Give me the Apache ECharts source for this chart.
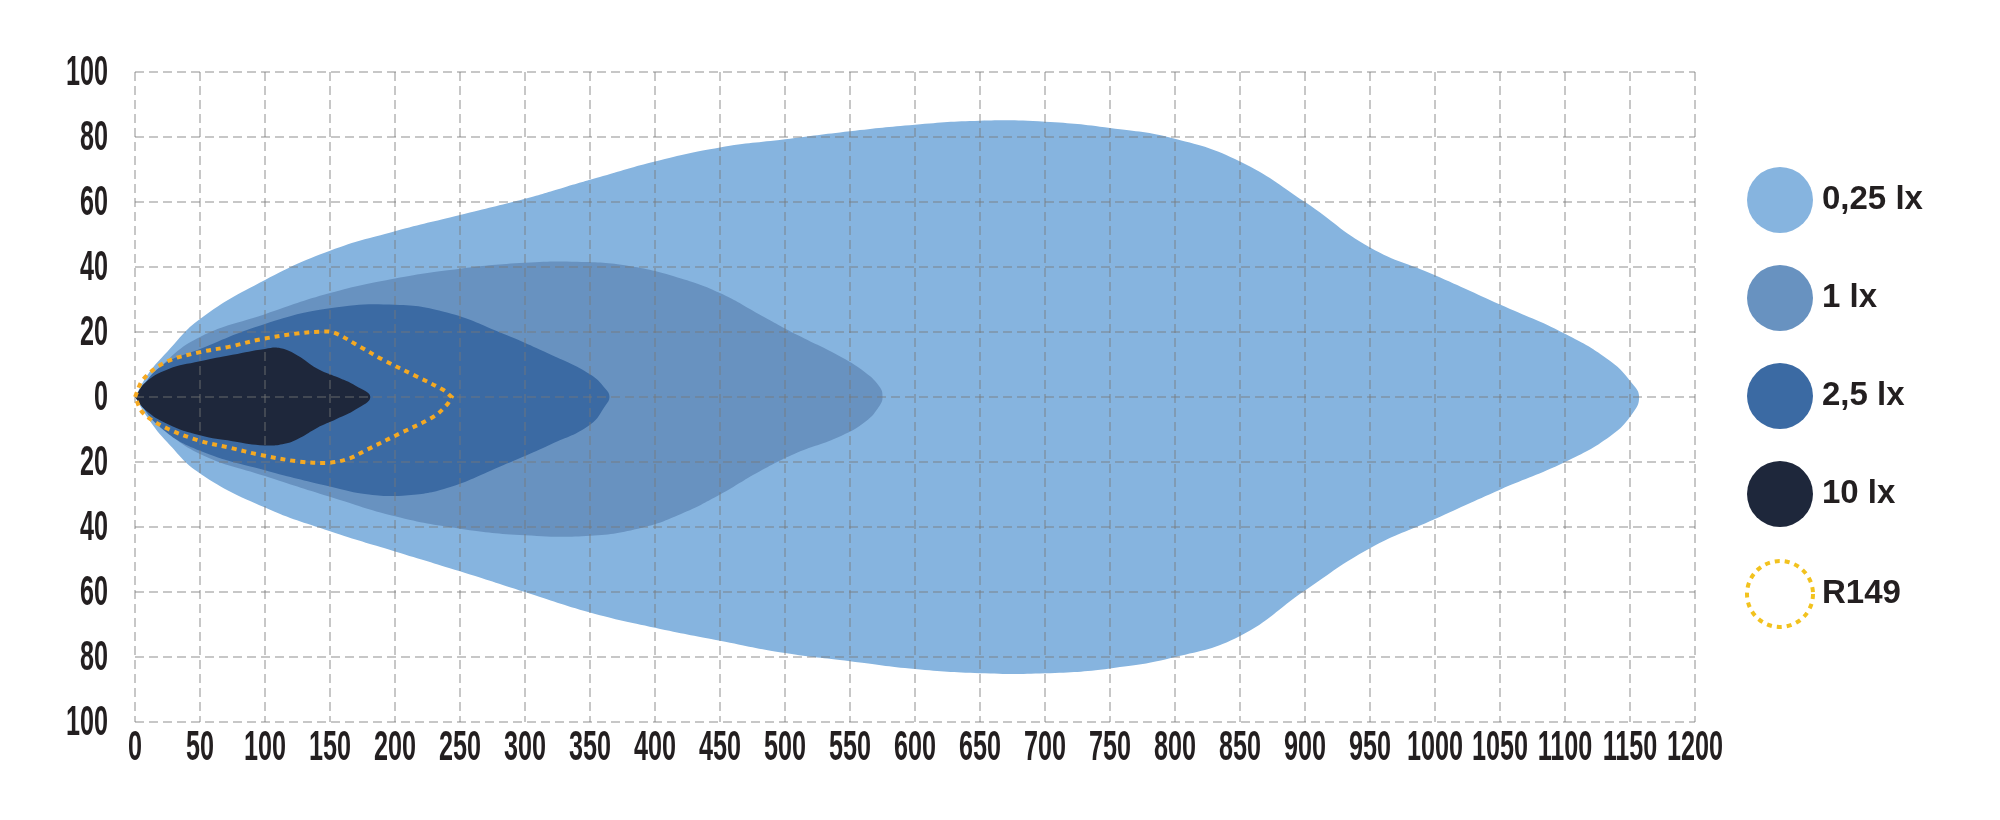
<!DOCTYPE html>
<html>
<head>
<meta charset="utf-8">
<script src="https://cdn.jsdelivr.net/npm/echarts@6/dist/echarts.min.js"></script>
<style>
  html, body { margin: 0; padding: 0; background: #ffffff; }
  #chart { width: 2000px; height: 820px; }
</style>
</head>
<body>
<div id="chart"></div>
<script>
// ---- Data (x: distance in m, y: lateral in m) ----
const seriesNames = ['0,25 lx', '1 lx', '2,5 lx', '10 lx', 'R149'];
const xTicks = [0, 50, 100, 150, 200, 250, 300, 350, 400, 450, 500, 550, 600, 650, 700, 750, 800, 850, 900, 950, 1000, 1050, 1100, 1150, 1200];
const yTicks = [-100, -80, -60, -40, -20, 0, 20, 40, 60, 80, 100];

const contour025 = [
  [0, 0], [10, 7], [25, 14], [50, 24], [100, 36], [150, 45], [200, 51], [250, 56],
  [300, 61], [330, 64.5], [360, 68], [400, 72.5], [450, 76.8], [500, 79.3], [550, 81.8],
  [600, 83.8], [650, 85], [700, 84.7], [750, 82.8], [800, 79.5], [850, 72.5], [900, 60],
  [950, 46], [1000, 37.5], [1050, 28.5], [1100, 19.5], [1135, 11], [1152, 4], [1157, 0],
  [1152, -5], [1135, -12], [1100, -20], [1050, -28.5], [1000, -37.5], [950, -46.5],
  [900, -59.5], [850, -73.5], [800, -80], [750, -83.5], [700, -85], [650, -85],
  [600, -83.7], [550, -81.3], [500, -78.8], [450, -75], [400, -71], [350, -66.3],
  [300, -60], [250, -53.6], [200, -47.5], [150, -41.3], [100, -34], [50, -23.5],
  [25, -14], [10, -6.5], [0, 0]
];
const contour1 = [
  [0, 0], [20, 9.5], [50, 18.5], [100, 25.5], [150, 32], [200, 36.5], [250, 39.5],
  [300, 41.3], [340, 41.6], [380, 40.3], [420, 36.5], [450, 32], [480, 25.5], [510, 19],
  [540, 13], [562, 7.5], [573, 3], [575, 0], [573, -2.5], [562, -7.5], [540, -12.5],
  [510, -17], [480, -23], [450, -30], [420, -36], [390, -40.2], [350, -42.7], [300, -42.5],
  [250, -40.5], [200, -36.7], [150, -30.7], [100, -24.3], [50, -17.5], [20, -9], [0, 0]
];
const contour25 = [
  [0, 0], [20, 9.5], [50, 14.8], [100, 22.5], [150, 27.3], [200, 28.4], [240, 26],
  [280, 20], [320, 13], [350, 7], [362, 2.5], [365, 0], [362, -2.5], [350, -8.5],
  [320, -14.5], [280, -21.5], [240, -28], [210, -30.2], [180, -30], [150, -27.5],
  [100, -22.5], [50, -16.5], [20, -9.5], [0, 0]
];
const contour10 = [
  [0, 0], [8, 4.5], [25, 8.5], [50, 11], [75, 13], [100, 14.8], [112, 15], [125, 12.8],
  [140, 8.8], [155, 6.2], [170, 3.4], [181, 0], [170, -3.8], [155, -6.8], [140, -9.5],
  [127, -12.5], [115, -14.4], [100, -14.9], [75, -13.6], [50, -11.8], [25, -8.3], [8, -4],
  [0, 0]
];
const contourR149 = [
  [0, 0], [6.4, 5.5], [24.4, 10.9], [50, 13.8], [73, 15.5], [96, 17.7], [124, 19.5],
  [142, 20.1], [153, 19.8], [173, 15.5], [191, 11.4], [216.7, 6.3], [237, 2.2],
  [243.6, 0], [243.6, 0], [239.7, -2.5], [229.5, -6.1], [203.8, -11.2], [178, -16.3],
  [165, -18.9], [150, -20.2], [127, -19.9], [96, -17.8], [73, -15.6], [50, -13.5],
  [24.4, -9.6], [6.4, -5], [0, 0]
];

// ---- Styles ----
const colors = ['#86b4df', '#6892c0', '#3b6aa3', '#1e273b'];
const r149Color = '#f5a922';
const r149LegendColor = '#f2c21e';
const fontFamily = '"Liberation Sans", Arial, sans-serif';
const textColor = '#231f20';
const tickFontSize = 42;
const tickScaleX = 0.6;

function areaSeries(name, pts, color, z) {
  return {
    name: name,
    type: 'custom',
    coordinateSystem: 'cartesian2d',
    z: z,
    itemStyle: { color: color },
    data: pts,
    encode: { x: 0, y: 1 },
    silent: true,
    renderItem: function (params, api) {
      if (params.dataIndex !== 0) return null;
      const p = pts.map(function (d) { return api.coord(d); });
      return {
        type: 'polygon',
        shape: { points: p, smooth: 0.45 },
        style: { fill: color, stroke: null }
      };
    }
  };
}

// condensed tick labels placed through the axes' own scale
function tickLabelSeries(name, data, isX) {
  return {
    name: name,
    type: 'custom',
    coordinateSystem: 'cartesian2d',
    z: 6,
    silent: true,
    clip: false,
    data: data,
    encode: { x: 0, y: 1 },
    renderItem: function (params, api) {
      const v = [api.value(0), api.value(1)];
      const p = api.coord(v);
      const txt = String(Math.abs(isX ? v[0] : v[1]));
      return {
        type: 'text',
        x: isX ? p[0] : p[0] - 27,
        y: isX ? p[1] + 26 : p[1] + 1,
        scaleX: tickScaleX,
        style: {
          text: txt,
          fontFamily: fontFamily,
          fontWeight: 'bold',
          fontSize: tickFontSize,
          fill: textColor,
          align: isX ? 'center' : 'right',
          verticalAlign: 'middle'
        }
      };
    }
  };
}

const chart = echarts.init(document.getElementById('chart'), null, { renderer: 'canvas' });

const gridLine = {
  show: true,
  lineStyle: { color: 'rgba(120,120,120,0.55)', width: 1.5, type: [9, 5] }
};

const option = {
  backgroundColor: '#ffffff',
  animation: false,
  grid: { left: 135, top: 72, width: 1560, height: 650, containLabel: false },
  xAxis: {
    type: 'value',
    min: xTicks[0],
    max: xTicks[xTicks.length - 1],
    interval: 50,
    z: 3,
    axisLine: { show: false },
    axisTick: { show: false },
    splitLine: gridLine,
    axisLabel: { show: false }
  },
  yAxis: {
    type: 'value',
    min: yTicks[0],
    max: yTicks[yTicks.length - 1],
    interval: 20,
    z: 3,
    axisLine: { show: false },
    axisTick: { show: false },
    splitLine: gridLine,
    axisLabel: { show: false }
  },
  legend: {
    orient: 'vertical',
    left: 1740,
    top: 162,
    itemWidth: 66,
    itemHeight: 66,
    itemGap: 32,
    selectedMode: false,
    textStyle: {
      fontFamily: fontFamily,
      fontWeight: 'bold',
      fontSize: 33,
      color: textColor,
      padding: [0, 0, 0, 4]
    },
    data: [
      { name: seriesNames[0], icon: 'circle', itemStyle: { color: colors[0] } },
      { name: seriesNames[1], icon: 'circle', itemStyle: { color: colors[1] } },
      { name: seriesNames[2], icon: 'circle', itemStyle: { color: colors[2] } },
      { name: seriesNames[3], icon: 'circle', itemStyle: { color: colors[3] } },
      { name: seriesNames[4], icon: 'circle',
        itemStyle: { color: 'rgba(255,255,255,0)', borderColor: r149LegendColor, borderWidth: 4, borderType: [5, 5] } }
    ]
  },
  series: [
    areaSeries(seriesNames[0], contour025, colors[0], 1),
    areaSeries(seriesNames[1], contour1, colors[1], 1),
    areaSeries(seriesNames[2], contour25, colors[2], 1),
    areaSeries(seriesNames[3], contour10, colors[3], 1),
    {
      name: seriesNames[4],
      type: 'custom',
      coordinateSystem: 'cartesian2d',
      z: 4,
      silent: true,
      itemStyle: { color: r149Color },
      data: contourR149,
      encode: { x: 0, y: 1 },
      renderItem: function (params, api) {
        if (params.dataIndex !== 0) return null;
        const p = contourR149.map(function (d) { return api.coord(d); });
        return {
          type: 'polygon',
          shape: { points: p, smooth: 0.35 },
          style: { fill: null, stroke: r149Color, lineWidth: 4, lineDash: [5, 5] }
        };
      }
    },
    tickLabelSeries('xTickLabels', xTicks.map(function (v) { return [v, yTicks[0]]; }), true),
    tickLabelSeries('yTickLabels', yTicks.map(function (v) { return [xTicks[0], v]; }), false)
  ]
};

chart.setOption(option);
</script>
</body>
</html>
